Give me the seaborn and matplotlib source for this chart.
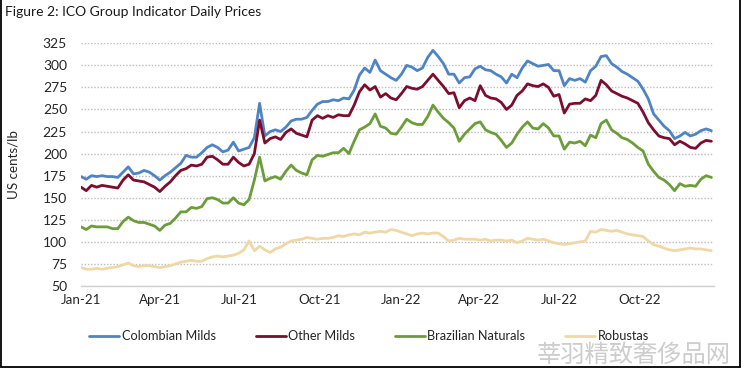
import matplotlib
matplotlib.use("Agg")
import matplotlib.pyplot as plt
import seaborn as sns
import pandas as pd
from matplotlib.lines import Line2D

# ---------------- data ----------------
dates = pd.date_range("2021-01-01", periods=121, freq="6D")

colombian_milds = [
    174, 171, 175, 174, 175, 174, 174, 173, 179, 185, 177, 178, 181, 179, 175, 170,
    175, 179, 184, 189, 198, 196, 196, 201, 207, 210, 207, 202, 204, 213, 203,
    205, 207, 218, 257, 220, 225, 227, 225, 230, 237, 239, 239, 241, 249, 256,
    259, 259, 261, 260, 263, 262, 272, 289, 297, 292, 306, 294, 290, 286, 283,
    290, 300, 298, 294, 297, 309, 317, 310, 302, 290, 290, 280, 286, 287, 296,
    299, 295, 294, 290, 287, 280, 290, 286, 297, 305, 302, 299, 300, 301, 294,
    294, 277, 285, 283, 285, 281, 294, 299, 310, 311, 302, 298, 293, 290, 286,
    282, 273, 262, 245, 238, 231, 226, 217, 220, 224, 220, 222, 226, 228, 226,
]
other_milds = [
    162, 158, 164, 162, 164, 163, 162, 161, 170, 176, 170, 169, 168, 165, 162, 157,
    163, 168, 175, 181, 183, 187, 186, 188, 196, 197, 193, 188, 188, 196, 190,
    186, 188, 200, 238, 212, 217, 219, 216, 224, 228, 223, 221, 219, 238, 243,
    240, 243, 241, 244, 243, 243, 255, 270, 278, 272, 276, 264, 268, 263, 261,
    268, 276, 274, 273, 276, 283, 290, 283, 276, 268, 269, 252, 260, 263, 260,
    277, 266, 263, 262, 258, 250, 255, 266, 271, 279, 277, 276, 279, 275, 265,
    267, 246, 256, 257, 257, 262, 260, 266, 283, 278, 271, 268, 265, 263, 260,
    257, 247, 235, 227, 220, 218, 217, 210, 214, 211, 207, 206, 212, 215, 214,
]
brazilian_naturals = [
    117, 114, 118, 117, 117, 117, 115, 115, 123, 128, 124, 122, 122, 120, 118, 113,
    119, 121, 127, 134, 134, 139, 138, 140, 149, 150, 148, 144, 144, 150, 144,
    142, 148, 170, 196, 169, 172, 174, 171, 180, 187, 181, 178, 176, 193, 198,
    197, 199, 201, 201, 206, 200, 214, 227, 230, 234, 245, 231, 229, 223, 222,
    230, 239, 235, 233, 233, 242, 255, 247, 240, 235, 229, 214, 222, 228, 234,
    236, 227, 224, 222, 215, 207, 212, 222, 230, 236, 229, 228, 234, 229, 220,
    220, 205, 213, 212, 214, 209, 221, 218, 234, 238, 227, 223, 218, 216, 212,
    207, 203, 188, 180, 173, 170, 165, 158, 166, 163, 164, 163, 171, 175, 173,
]
robustas = [
    71, 69, 69, 70, 69, 70, 71, 72, 74, 76, 73, 72, 73, 73, 72, 71,
    72, 73, 75, 77, 78, 79, 78, 78, 81, 83, 84, 83, 84, 85, 87,
    91, 101, 90, 95, 91, 88, 92, 94, 98, 101, 102, 103, 105, 104, 103,
    104, 104, 105, 107, 106, 108, 109, 108, 111, 110, 111, 112, 111, 114, 113,
    111, 109, 107, 109, 110, 109, 110, 110, 106, 101, 102, 104, 103, 103, 103,
    102, 103, 101, 102, 102, 101, 102, 99, 101, 104, 103, 102, 103, 101, 99,
    98, 97, 98, 99, 100, 101, 112, 111, 114, 113, 112, 113, 111, 109, 108,
    107, 106, 101, 97, 95, 93, 91, 90, 91, 92, 93, 92, 92, 91, 90,
]

series_names = ["Colombian Milds", "Other Milds", "Brazilian Naturals", "Robustas"]
series_colors = ["#4F84C4", "#7B0D2D", "#6B9D3A", "#EFD8A6"]

xtick_dates = ["2021-01-01", "2021-04-01", "2021-07-01", "2021-10-01",
               "2022-01-01", "2022-04-01", "2022-07-01", "2022-10-01"]
xtick_labels = ["Jan-21", "Apr-21", "Jul-21", "Oct-21",
                "Jan-22", "Apr-22", "Jul-22", "Oct-22"]
yticks = [50, 75, 100, 125, 150, 175, 200, 225, 250, 275, 300, 325]

title_text = "Figure 2: ICO Group Indicator Daily Prices"
ylabel_text = "US cents/lb"
watermark_text = "莘羽精致奢侈品网"

# ---------------- frame ----------------
wide = pd.DataFrame({"date": dates,
                     series_names[0]: colombian_milds,
                     series_names[1]: other_milds,
                     series_names[2]: brazilian_naturals,
                     series_names[3]: robustas})
df = wide.melt(id_vars="date", var_name="series", value_name="price")

sns.set_theme(style="white")
plt.rcParams["font.family"] = ["Lato", "DejaVu Sans"]

W, H = 742, 369
fig = plt.figure(figsize=(W / 100, H / 100), dpi=100)
ax = fig.add_axes([81 / W, 1 - 286 / H, (714 - 81) / W, (286 - 43.3) / H])

sns.lineplot(data=df, x="date", y="price", hue="series", hue_order=series_names,
             palette=series_colors, linewidth=2.0, ax=ax)

ax.set_ylim(50, 325)
ax.set_xlim(pd.Timestamp("2021-01-01"), pd.Timestamp("2021-01-01") + pd.Timedelta(days=723))
ax.set_yticks(yticks)
ax.set_xticks(pd.to_datetime(xtick_dates))
ax.set_xticklabels(xtick_labels)
ax.tick_params(axis="y", length=0, pad=10, labelsize=10, labelcolor="#262626")
ax.tick_params(axis="x", length=0, pad=6, labelsize=9.6, labelcolor="#262626")
ax.set_xlabel("")
ax.set_ylabel("")

ax.yaxis.grid(True, linestyle=(0, (1, 1.3)), color="#BDBDBD", linewidth=1.0)
ax.xaxis.grid(False)
for s in ["top", "right", "left"]:
    ax.spines[s].set_visible(False)
ax.spines["bottom"].set_color("#D0D0D0")
ax.spines["bottom"].set_linewidth(1.0)
ax.set_axisbelow(True)

sns.move_legend(ax, "center", bbox_to_anchor=(369 / W, 1 - 336 / H),
                bbox_transform=fig.transFigure, ncol=4, frameon=False, title=None,
                handlelength=2.35, columnspacing=3.1, handletextpad=0.2, fontsize=9.2)
for line in ax.get_legend().get_lines():
    line.set_linewidth(2.0)

fig.text(5 / W, 1 - 12 / H, title_text, ha="left", va="center", fontsize=10, color="#1a1a1a")
fig.text(13 / W, 1 - 165 / H, ylabel_text, ha="center", va="center", rotation=90,
         fontsize=9.6, color="#262626")
fig.text(731 / W, 1 - 355 / H, watermark_text, ha="right", va="center", fontsize=17.5,
         color="#CDCDCD", family=["Noto Sans CJK SC", "DejaVu Sans"])

# outer frame (left, right, bottom)
fig.add_artist(Line2D([1 / W, 1 / W], [1 - 367 / H, 1], transform=fig.transFigure,
                      color="black", linewidth=1.3))
fig.add_artist(Line2D([740 / W, 740 / W], [1 - 367 / H, 1], transform=fig.transFigure,
                      color="black", linewidth=1.3))
fig.add_artist(Line2D([1 / W, 740 / W], [1 - 367 / H, 1 - 367 / H], transform=fig.transFigure,
                      color="black", linewidth=1.3))

fig.savefig("out.png", dpi=100)
